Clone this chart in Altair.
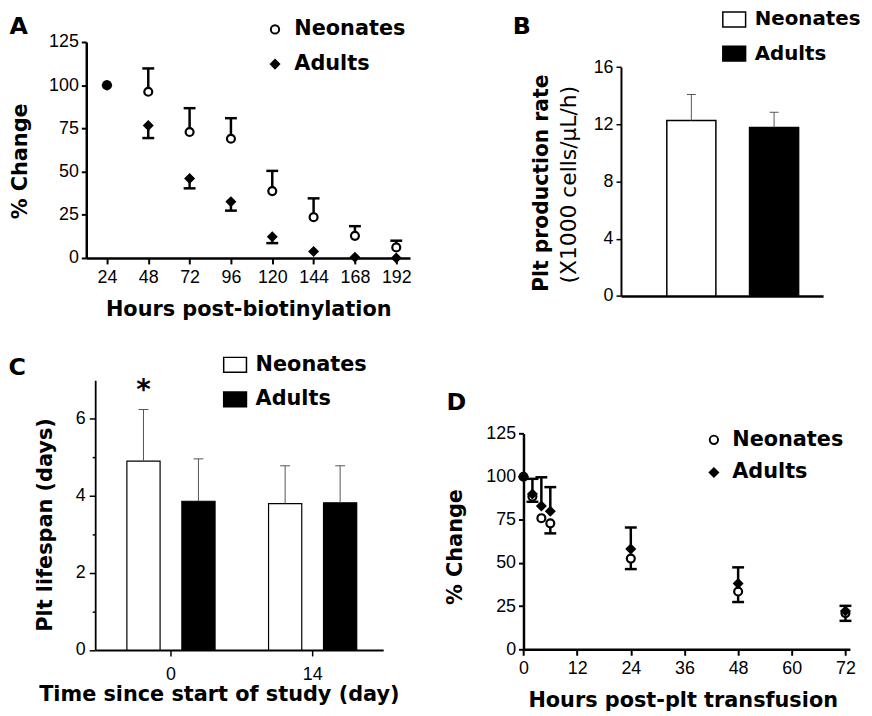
import altair as alt
import pandas as pd

W, H = 864, 708
TICK_FONT = "Liberation Sans"
BOLD_FONT = "DejaVu Sans"

# ---------------- data ----------------
groups = ["Neonates", "Adults"]
pct_ticks = [0, 25, 50, 75, 100, 125]

# Panel A
a_hours = [24, 48, 72, 96, 120, 144, 168, 192]
a_neonates = [100, 96.2, 72.9, 69.0, 38.7, 23.6, 12.8, 6.1]
a_neonates_err = [None, 109.7, 86.7, 80.9, 50.4, 34.5, 18.4, 10.0]
a_adults = [100, 76.7, 46.0, 32.6, 12.3, 3.8, 0.4, 0.0]
a_adults_err = [None, 69.4, 40.3, 27.4, 8.6, None, None, None]
a_ticks = [24, 48, 72, 96, 120, 144, 168, 192]

# Panel B
b_rate = [12.26, 11.78]
b_rate_err = [14.08, 12.84]
b_ticks = [0, 4, 8, 12, 16]

# Panel C
c_days = ["0", "0", "14", "14"]
c_groups = ["Neonates", "Adults", "Neonates", "Adults"]
c_life = [4.90, 3.86, 3.80, 3.82]
c_life_err = [6.24, 4.96, 4.78, 4.78]
c_sig = ["*", "", "", ""]
c_ticks = [0, 1, 2, 3, 4, 5, 6]

# Panel D
d_hours = [0, 2, 4, 6, 24, 48, 72]
d_neonates = [100, 88.5, 76.0, 73.0, 52.6, 33.5, 21.0]
d_neonates_err = [None, 85.5, None, 67.2, 46.5, 27.4, 16.5]
d_adults = [100, 90.0, 83.0, 80.0, 58.2, 38.1, 22.2]
d_adults_err = [None, 98.8, 99.7, 94.0, 70.6, 47.5, 25.2]
d_ticks = [0, 12, 24, 36, 48, 60, 72]


# ---------------- helpers ----------------
def _axis(orient, offset, **kw):
    base = dict(orient=orient, offset=offset, domainColor="black", tickColor="black", grid=False,
                labelFont=TICK_FONT, labelFontSize=18, labelColor="black", labelFlush=False,
                labelOverlap=False, labelAngle=0,
                titleFont=BOLD_FONT, titleFontWeight="bold", titleFontSize=21, titleColor="black",
                titleBaseline="alphabetic", titleAlign="center")
    base.update(kw)
    return alt.Axis(**base)


def ax_bottom(y_px, **kw):
    return _axis("bottom", y_px - H, **kw)


def ax_left(x_px, **kw):
    return _axis("left", -x_px, **kw)


def letter_axis(letter, x_abs, y_abs):
    return alt.Axis(orient="top", title=letter, titleX=x_abs, titleY=y_abs, titleAngle=0,
                    titleAlign="left", titleBaseline="alphabetic", titleFont=BOLD_FONT,
                    titleFontWeight="bold", titleFontSize=24, titleColor="black",
                    domain=False, ticks=False, labels=False, grid=False)


def legend(x, y, size, stroke_w, label_offset, row_pad, symbol_type=None, font_size=21):
    kw = dict(orient="none", legendX=x, legendY=y, title=None, direction="vertical", padding=0,
              labelFont=BOLD_FONT, labelFontWeight="bold", labelFontSize=font_size,
              labelColor="black", labelOffset=label_offset, rowPadding=row_pad, symbolSize=size,
              symbolStrokeColor="black", symbolStrokeWidth=stroke_w, symbolOpacity=1)
    if symbol_type:
        kw["symbolType"] = symbol_type
    return alt.Legend(**kw)


def scatter_panel(hours, neo, neo_err, adu, adu_err, xs, ys, xaxis, yaxis, lax, leg):
    n = len(hours)
    df = pd.DataFrame({"hour": hours + hours, "val": neo + adu, "err": neo_err + adu_err,
                       "group": ["Neonates"] * n + ["Adults"] * n})
    err = df.dropna(subset=["err"])
    rules = alt.Chart(err).mark_rule(color="black", strokeWidth=2.5).encode(
        x=alt.X("hour:Q", scale=xs, axis=None),
        y=alt.Y("val:Q", scale=ys, axis=None),
        y2="err:Q")
    caps = alt.Chart(err).mark_tick(orient="horizontal", size=12, thickness=2.5,
                                    color="black", opacity=1).encode(
        x=alt.X("hour:Q", scale=xs, axis=lax),
        y=alt.Y("err:Q", scale=ys, axis=None))
    pts = alt.Chart(df).mark_point(filled=True, strokeWidth=2.2, opacity=1, size=64).encode(
        x=alt.X("hour:Q", scale=xs, axis=xaxis),
        y=alt.Y("val:Q", scale=ys, axis=yaxis),
        shape=alt.Shape("group:N", scale=alt.Scale(domain=groups, range=["circle", "diamond"]),
                        legend=leg),
        fill=alt.Fill("group:N", scale=alt.Scale(domain=groups, range=["white", "black"]),
                      legend=leg),
        stroke=alt.Stroke("group:N", scale=alt.Scale(domain=groups, range=["black", "black"]),
                          legend=leg))
    return alt.layer(rules, caps, pts).resolve_axis(x="independent", y="independent")


# ---------------- Panel A ----------------
xA = alt.Scale(domain=[12, 200], range=[79, 405.8], nice=False, zero=False)
yA = alt.Scale(domain=[0, 125], range=[249, 31], nice=False, zero=False)
panelA = scatter_panel(
    a_hours, a_neonates, a_neonates_err, a_adults, a_adults_err, xA, yA,
    ax_bottom(249, values=a_ticks, title="Hours post-biotinylation", titleX=242.5, titleY=58,
              domainWidth=2.5, tickWidth=2, tickSize=6, labelPadding=5),
    ax_left(79, values=pct_ticks, title="% Change", titleX=18.5 - 79, titleY=151,
            domainWidth=2.5, tickWidth=2, tickSize=5, labelPadding=3),
    letter_axis("A", 1, 22),
    legend(259, 7.8, 70, 2, 9, 13))

# ---------------- Panel D ----------------
xD = alt.Scale(domain=[0, 73], range=[520.3, 849.8], nice=False, zero=False)
yD = alt.Scale(domain=[0, 125], range=[644, 426.3], nice=False, zero=False)
panelD = scatter_panel(
    d_hours, d_neonates, d_neonates_err, d_adults, d_adults_err, xD, yD,
    ax_bottom(644, values=d_ticks, title="Hours post-plt transfusion", titleX=681, titleY=58,
              domainWidth=2.5, tickWidth=2, tickSize=6, labelPadding=4),
    ax_left(520.3, values=pct_ticks, title="% Change", titleX=457.3 - 520.3, titleY=540.3,
            domainWidth=2.5, tickWidth=2, tickSize=5, labelPadding=3),
    letter_axis("D", 442, 402),
    legend(702, 422, 70, 2, 8, 11))

# ---------------- Panel B ----------------
RECT = "M-1,-0.65H1V0.65H-1Z"
dfB = pd.DataFrame({"group": groups, "val": b_rate, "err": b_rate_err})
xB = alt.Scale(domain=groups, range=[618.7, 822.7], paddingInner=0.407, paddingOuter=0.425, align=0.652)
yB = alt.Scale(domain=[0, 16], range=[287.3, 56.3], nice=False, zero=False)
fillB = alt.Scale(domain=groups, range=["white", "black"])
axB_x = alt.Axis(orient="bottom", offset=287.3 - H, ticks=False, labels=False, title=None,
                 domainColor="black", domainWidth=2.5, grid=False)
axB_y = ax_left(618.7, values=b_ticks, title="Plt production rate", titleX=545 - 618.7,
                titleY=173, titleFontSize=20.5, domainWidth=2, tickWidth=1.5, tickSize=5,
                labelPadding=3)
axB_y2 = ax_left(618.7, title="(X1000 cells/\u03bcL/h)", titleX=573 - 618.7, titleY=174.5,
                 titleFontWeight="normal", titleFontSize=22, domain=False, ticks=False,
                 labels=False)
barsB = alt.Chart(dfB).mark_bar(stroke="black", strokeWidth=1.5).encode(
    x=alt.X("group:N", scale=xB, sort=groups, axis=axB_x),
    y=alt.Y("val:Q", scale=yB, axis=axB_y),
    fill=alt.Fill("group:N", scale=fillB,
                  legend=legend(720.5, -4.2, 529, 1.5, 8.2, 11.5, RECT, font_size=20)))
rulesB = alt.Chart(dfB).mark_rule(color="#555555", strokeWidth=1).encode(
    x=alt.X("group:N", scale=xB, sort=groups, axis=None),
    y=alt.Y("val:Q", scale=yB, axis=None), y2="err:Q")
capsB = alt.Chart(dfB).mark_tick(orient="horizontal", size=9, thickness=1, color="#555555",
                                 opacity=1).encode(
    x=alt.X("group:N", scale=xB, sort=groups, axis=letter_axis("B", 509, 22)),
    y=alt.Y("err:Q", scale=yB, axis=axB_y2))
panelB = alt.layer(barsB, rulesB, capsB).resolve_axis(x="independent", y="independent")

# ---------------- Panel C ----------------
dfC = pd.DataFrame({"day": c_days, "group": c_groups, "val": c_life, "err": c_life_err, "sig": c_sig})
xC = alt.Scale(domain=["0", "14"], range=[88, 378.7], paddingInner=0.3776, paddingOuter=0.2053, align=0.545)
xoC = alt.Scale(domain=groups, paddingInner=0.396, paddingOuter=0)
yC = alt.Scale(domain=[0, 7], range=[644.7, 372.4], nice=False, zero=False)
fillC = alt.Scale(domain=groups, range=["white", "black"])
axC_x = ax_bottom(644.7, title="Time since start of study (day)", titleX=212.8, titleY=51.3,
                  domainWidth=2, tickWidth=1.5, tickSize=6, labelPadding=10)
axC_y = ax_left(88, values=c_ticks, title="Plt lifespan (days)", titleX=43.5 - 88, titleY=518,
                labelExpr="datum.value % 2 === 0 ? datum.label : ''",
                tickSize={"condition": {"test": "datum.value % 2 === 1", "value": 3}, "value": 6},
                domainWidth=1.8, tickWidth=1.5, labelPadding=4)


def cx(axis):
    return alt.X("day:N", scale=xC, sort=["0", "14"], axis=axis)


def cxo():
    return alt.XOffset("group:N", scale=xoC, sort=groups)


barsC = alt.Chart(dfC).mark_bar(stroke="black", strokeWidth=1.2).encode(
    x=cx(axC_x), xOffset=cxo(),
    y=alt.Y("val:Q", scale=yC, axis=axC_y),
    fill=alt.Fill("group:N", scale=fillC, legend=legend(216.7, 344.3, 529, 1.5, 8.2, 12, RECT)))
rulesC = alt.Chart(dfC).mark_rule(color="#555555", strokeWidth=1).encode(
    x=cx(None), xOffset=cxo(),
    y=alt.Y("val:Q", scale=yC, axis=None), y2="err:Q")
capsC = alt.Chart(dfC).mark_tick(orient="horizontal", size=10, thickness=1, color="#555555",
                                 opacity=1).encode(
    x=cx(letter_axis("C", 0, 367)), xOffset=cxo(),
    y=alt.Y("err:Q", scale=yC, axis=None))
sigC = alt.Chart(dfC).mark_text(font=BOLD_FONT, fontWeight="bold", fontSize=28, dy=-11,
                                baseline="alphabetic", color="black").encode(
    x=cx(None), xOffset=cxo(),
    y=alt.Y("err:Q", scale=yC, axis=None), text="sig:N")
panelC = alt.layer(barsC, rulesC, capsC, sigC).resolve_axis(x="independent", y="independent")

# ---------------- compose ----------------
chart = alt.layer(panelA, panelB, panelC, panelD).resolve_scale(
    x="independent", y="independent", fill="independent", shape="independent",
    stroke="independent"
).properties(
    width=W, height=H, padding=0, autosize=alt.AutoSizeParams(type="none")
).configure_view(stroke=None)

chart.save("out.html", embed_options={"renderer": "svg", "actions": False})
